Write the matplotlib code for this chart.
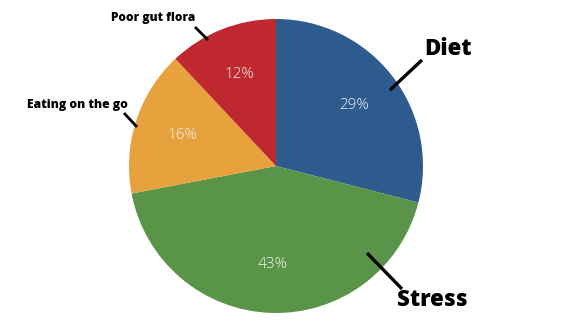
import matplotlib.pyplot as plt

# Pie data
labels = ["Diet", "Stress", "Eating on the go", "Poor gut flora"]
shares = [29, 43, 16, 12]
colors = ["#2D5B8E", "#5A9448", "#E8A23D", "#C0282F"]

W, H = 567, 327
fig = plt.figure(figsize=(W / 100, H / 100), dpi=100)
ax = fig.add_axes([0, 0, 1, 1])

def py(y):
    # pixel row (from top) to data y
    return H - y

wedges, texts, autotexts = ax.pie(
    shares, colors=colors, startangle=90, counterclock=False,
    center=(276, py(166)), radius=147,
    autopct="%d%%", pctdistance=0.67,
    textprops=dict(color="#F4F4F4", fontsize=11, family="Open Sans",
                   fontweight="light"),
    wedgeprops=dict(linewidth=0),
)

ax.set_xlim(0, W)
ax.set_ylim(0, H)
ax.set_aspect("equal")
ax.axis("off")

# outside labels with leader lines: (text x, text y, size, line start, line end)
callouts = [
    (448, 49, 16, (390, 90), (422, 60)),
    (432, 300, 16, (367, 253), (402, 289)),
    (77, 105, 8.7, (124, 113), (137, 127)),
    (153, 18, 8.6, (195, 27), (208, 40)),
]
for lab, (tx, ty, fs, p0, p1) in zip(labels, callouts):
    ax.text(tx, py(ty), lab, ha="center", va="center", fontsize=fs,
            fontweight="heavy", family="Open Sans", color="black")
    lw = 2.4 if fs > 10 else 2.0
    ax.plot([p0[0], p1[0]], [py(p0[1]), py(p1[1])], color="black",
            lw=lw, solid_capstyle="butt")

fig.savefig("out.png", dpi=100)
